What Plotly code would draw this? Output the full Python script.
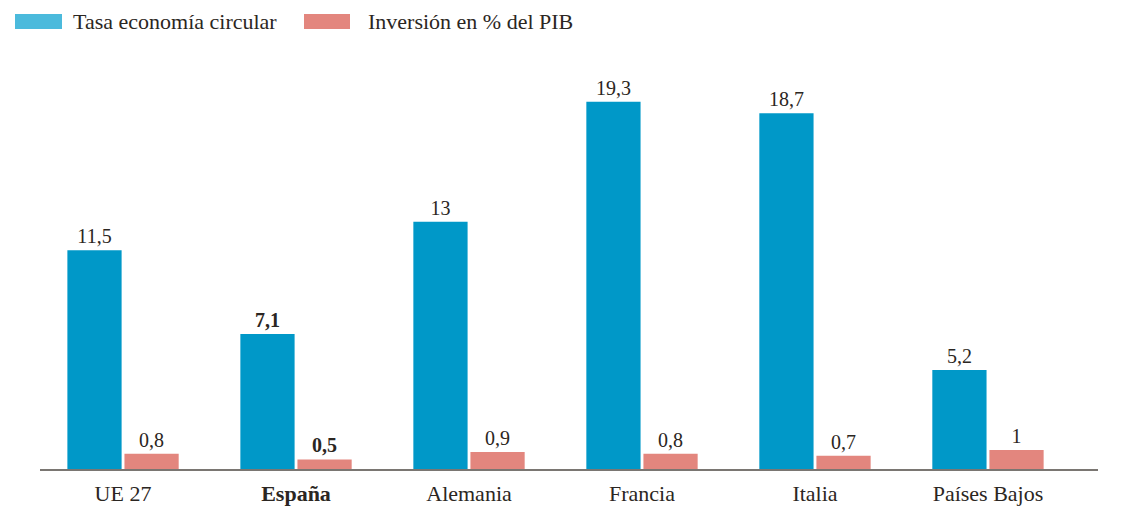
import plotly.graph_objects as go

categories = ["UE 27", "España", "Alemania", "Francia", "Italia", "Países Bajos"]
tick_labels = ["UE 27", "<b>España</b>", "Alemania", "Francia", "Italia", "Países Bajos"]
tasa = [11.5, 7.1, 13, 19.3, 18.7, 5.2]
inversion = [0.8, 0.5, 0.9, 0.8, 0.7, 1]
tasa_text = ["11,5", "<b>7,1</b>", "13", "19,3", "18,7", "5,2"]
inv_text = ["0,8", "<b>0,5</b>", "0,9", "0,8", "0,7", "1"]

FONT = "Liberation Serif, Times New Roman, DejaVu Serif, serif"
TXT = "#2b2622"

fig = go.Figure()
fig.add_trace(go.Bar(x=categories, y=tasa, name="Tasa economía circular",
                     marker=dict(color="#0098C8", line=dict(width=0)),
                     text=tasa_text, textposition="outside", cliponaxis=False,
                     textfont=dict(family=FONT, size=20, color=TXT)))
fig.add_trace(go.Bar(x=categories, y=inversion, name="Inversión en % del PIB",
                     marker=dict(color="#E3867E", line=dict(width=0)),
                     text=inv_text, textposition="outside", cliponaxis=False,
                     textfont=dict(family=FONT, size=20, color=TXT)))

fig.update_layout(
    width=1124, height=507,
    margin=dict(l=40, r=26, t=60, b=38, autoexpand=False),
    paper_bgcolor="white", plot_bgcolor="white",
    barmode="group", bargap=0.34, bargroupgap=0.05,
    showlegend=False,
    font=dict(family=FONT, size=22, color=TXT),
    xaxis=dict(range=[-0.48, 5.636], tickmode="array", tickvals=categories,
               ticktext=tick_labels, showline=True, linecolor="#7a7672", linewidth=2,
               ticks="", showgrid=False, ticklabelstandoff=4, automargin=False,
               tickfont=dict(family=FONT, size=22, color=TXT)),
    yaxis=dict(range=[0, 21.5], visible=False, showgrid=False, zeroline=False),
)

# legend drawn manually to match wide swatches
legend_items = [("Tasa economía circular", "#4BBADC", 15, 62, 71),
                ("Inversión en % del PIB", "#E3867E", 304, 350, 366)]
for label, col, x0, x1, tx in legend_items:
    fig.add_shape(type="rect", xref="paper", yref="paper",
                  x0=(x0 - 40) / 1058, x1=(x1 - 40) / 1058,
                  y0=1 + (60 - 29) / 409, y1=1 + (60 - 14) / 409,
                  fillcolor=col, line=dict(width=0))
    fig.add_annotation(text=label, xref="paper", yref="paper",
                       x=(tx - 40) / 1058, y=1 + (60 - 22) / 409,
                       xanchor="left", yanchor="middle", showarrow=False,
                       font=dict(family=FONT, size=22, color=TXT))

fig.write_html("out.html", config={"displayModeBar": False},
               post_script="document.body.style.margin='0';")
